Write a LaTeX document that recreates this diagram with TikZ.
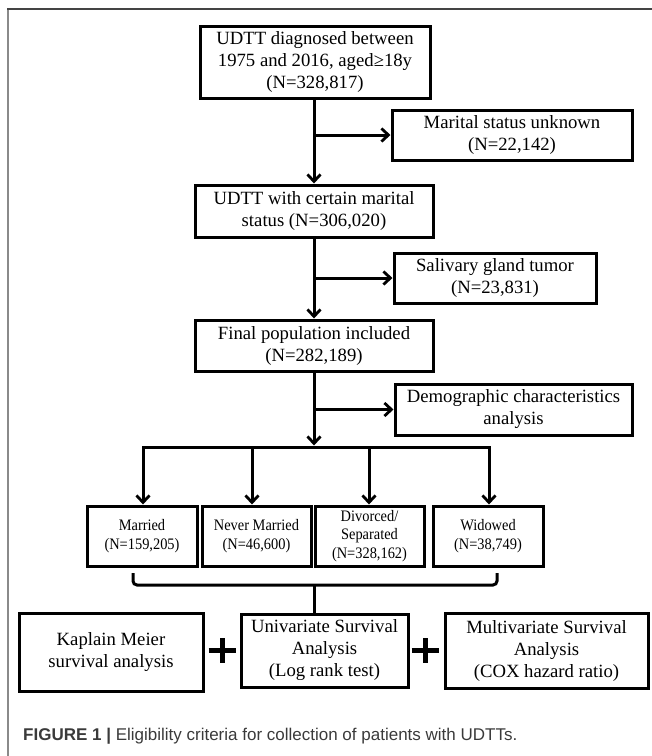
\documentclass[tikz,border=0pt]{standalone}
\usepackage{fontspec}
\setmainfont{Liberation Serif}
\newfontfamily\capfont{Liberation Sans}
\newfontfamily\narrowfont[FakeStretch=0.9]{Liberation Serif}
\usetikzlibrary{arrows.meta}
\definecolor{frametop}{HTML}{444444}
\definecolor{frameleft}{HTML}{8A8A8A}
\definecolor{captext}{HTML}{3A3A3A}
\begin{document}
\begin{tikzpicture}[x=1pt,y=-1pt,
  box/.style={draw, line width=3pt, align=center, inner sep=0pt,
    font=\fontsize{18.7}{22}\selectfont},
  smallbox/.style={box, font=\narrowfont\fontsize{16}{18.5}\selectfont},
  conn/.style={line width=3pt},
  arr/.style={line width=3pt, -{Straight Barb[length=7pt,width=13pt,line width=2.8pt]}},
  plus/.style={line width=5pt}]
\useasboundingbox (0,0) rectangle (652,756);
% frame
\draw[frameleft, line width=2pt] (8,756) -- (8,9);
\draw[frametop, line width=2.2pt] (7,9) -- (652,9);

% main column
\node[box, minimum width=230pt, minimum height=72pt] (b1) at (315,62)
  {UDTT diagnosed between\\1975 and 2016, aged≥18y\\(N=328,817)};
\node[box, minimum width=240pt, minimum height=50pt] (b2) at (512,135)
  {Marital status unknown\\(N=22,142)};
\node[box, minimum width=238pt, minimum height=52pt] (b3) at (314,211)
  {UDTT with certain marital\\status (N=306,020)};
\node[box, minimum width=202pt, minimum height=50pt] (b4) at (495,278)
  {Salivary gland tumor\\(N=23,831)};
\node[box, minimum width=238pt, minimum height=51pt] (b5) at (314,345.5)
  {Final population included\\(N=282,189)};
\node[box, minimum width=237pt, minimum height=51pt] (b6) at (513.5,409.5)
  {Demographic characteristics\\analysis};

\coordinate (j1) at (b3.north |- b2.west);
\coordinate (j2) at (b3.south |- b4.west);
\coordinate (j3) at (b5.south |- b6.west);
\draw[arr] (b3.north |- b1.south) -- (b3.north);
\draw[arr] (j1) -- (b2.west);
\draw[arr] (b3.south) -- (b5.north);
\draw[arr] (j2) -- (b4.west);

% marital groups
\node[smallbox, minimum width=110pt, minimum height=60pt] (m1) at (142,536) {Married\\(N=159,205)};
\node[smallbox, minimum width=109pt, minimum height=60pt] (m2) at (256.5,536) {Never Married\\(N=46,600)};
\node[smallbox, minimum width=109pt, minimum height=60pt] (m3) at (369.5,536) {Divorced/\\Separated\\(N=328,162)};
\node[smallbox, minimum width=110pt, minimum height=60pt] (m4) at (488,536) {Widowed\\(N=38,749)};

\coordinate (h1) at (143,447);
\coordinate (h2) at (252,447);
\coordinate (h3) at (369,447);
\coordinate (h4) at (489,447);
\coordinate (hc) at (314,445.5);
\draw[arr] (b5.south) -- (hc);
\draw[arr] (j3) -- (b6.west);
\draw[conn, line cap=rect] (h1) -- (h4);
\draw[arr] (h1) -- (h1 |- m1.north);
\draw[arr] (h2) -- (h2 |- m2.north);
\draw[arr] (h3) -- (h3 |- m3.north);
\draw[arr] (h4) -- (h4 |- m4.north);

% bracket
\coordinate (k1) at (133,573);
\coordinate (k2) at (497,573);
\coordinate (kc) at (314,585);
\draw[conn, rounded corners=4pt] (k1) -- (k1 |- kc) -- (k2 |- kc) -- (k2);

% analyses
\node[box, minimum width=184pt, minimum height=78pt] (a1) at (111,652)
  {Kaplain Meier\\survival analysis};
\node[box, minimum width=167pt, minimum height=73pt] (a2) at (324.5,650.5)
  {Univariate Survival\\Analysis\\(Log rank test)};
\node[box, minimum width=203pt, minimum height=75pt] (a3) at (546.5,650.5)
  {Multivariate Survival\\Analysis\\(COX hazard ratio)};
\draw[conn] (kc) -- (kc |- a2.north);

% plus signs
\coordinate (p1) at (222,650);
\coordinate (p2) at (425,650);
\draw[plus] ([xshift=-13.5pt]p1) -- ([xshift=13.5pt]p1) ([yshift=-12.5pt]p1) -- ([yshift=12.5pt]p1);
\draw[plus] ([xshift=-13.5pt]p2) -- ([xshift=13.5pt]p2) ([yshift=-12.5pt]p2) -- ([yshift=12.5pt]p2);

% caption
\node[anchor=base west, inner sep=0pt, text=captext, font=\capfont\fontsize{17}{20}\selectfont] (cap) at (23,740)
  {\textbf{FIGURE 1 |} Eligibility criteria for collection of patients with UDTTs.};
\end{tikzpicture}
\end{document}
